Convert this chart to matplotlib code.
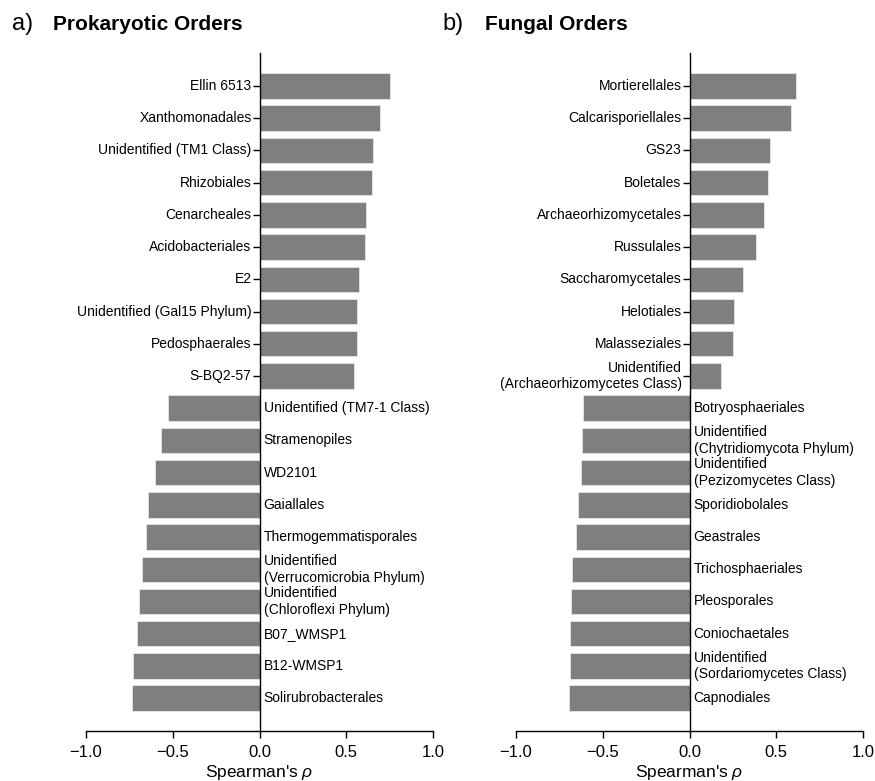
import matplotlib
matplotlib.use("Agg")
import matplotlib.pyplot as plt
import matplotlib.transforms as mtransforms

plt.rcParams['font.family'] = ['Liberation Sans', 'DejaVu Sans']
plt.rcParams['mathtext.fontset'] = 'custom'
plt.rcParams['mathtext.it'] = 'Liberation Sans:italic'
plt.rcParams['mathtext.rm'] = 'Liberation Sans'

# Spearman correlations of prokaryotic orders
prok_orders = [
    "Ellin 6513", "Xanthomonadales", "Unidentified (TM1 Class)", "Rhizobiales",
    "Cenarcheales", "Acidobacteriales", "E2", "Unidentified (Gal15 Phylum)",
    "Pedosphaerales", "S-BQ2-57", "Unidentified (TM7-1 Class)", "Stramenopiles",
    "WD2101", "Gaiallales", "Thermogemmatisporales",
    "Unidentified\n(Verrucomicrobia Phylum)", "Unidentified\n(Chloroflexi Phylum)",
    "B07_WMSP1", "B12-WMSP1", "Solirubrobacterales",
]
prok_rho = [0.753, 0.696, 0.653, 0.651, 0.611, 0.605, 0.572, 0.563, 0.561, 0.546,
            -0.530, -0.565, -0.601, -0.640, -0.657, -0.678, -0.692, -0.707, -0.728, -0.734]

# Spearman correlations of fungal orders
fungal_orders = [
    "Mortierellales", "Calcarisporiellales", "GS23", "Boletales",
    "Archaeorhizomycetales", "Russulales", "Saccharomycetales", "Helotiales",
    "Malasseziales", "Unidentified\n(Archaeorhizomycetes Class)", "Botryosphaeriales",
    "Unidentified\n(Chytridiomycota Phylum)", "Unidentified\n(Pezizomycetes Class)",
    "Sporidiobolales", "Geastrales", "Trichosphaeriales", "Pleosporales",
    "Coniochaetales", "Unidentified\n(Sordariomycetes Class)", "Capnodiales",
]
fungal_rho = [0.613, 0.586, 0.465, 0.454, 0.427, 0.386, 0.308, 0.256, 0.248, 0.183,
              -0.615, -0.622, -0.623, -0.640, -0.653, -0.678, -0.682, -0.689, -0.690, -0.697]

x_ticks = [-1.0, -0.5, 0.0, 0.5, 1.0]
bar_color = "#7f7f7f"

fig = plt.figure(figsize=(8.75, 7.81), dpi=100)


def draw_panel(ax, names, values):
    ypos = list(range(len(names)))
    ax.barh(ypos, values, height=0.79, color=bar_color, edgecolor="#e6e6e6",
            linewidth=0.6, zorder=2)
    ax.set_xlim(-1.0, 1.0)
    ax.set_ylim(len(names) - 1 + 1.02, -1.02)
    ax.spines['left'].set_position(('data', 0))
    ax.spines['left'].set_zorder(3)
    ax.spines['top'].set_visible(False)
    ax.spines['right'].set_visible(False)
    for s in ('left', 'bottom'):
        ax.spines[s].set_linewidth(1.0)
    ax.set_xticks(x_ticks)
    ax.tick_params(axis='x', labelsize=12, length=5, width=1, pad=5)
    ax.set_yticks(ypos)
    ax.set_yticklabels([])
    ax.tick_params(axis='y', length=5, width=1, direction='out')
    ax.set_xlabel(r"Spearman's $\rho$", fontsize=12.5, labelpad=2)

    left_off = mtransforms.offset_copy(ax.transData, fig=fig, x=-8, y=0, units='dots')
    right_off = mtransforms.offset_copy(ax.transData, fig=fig, x=4, y=0, units='dots')
    for y, name, v in zip(ypos, names, values):
        if v >= 0:
            ax.text(0, y, name, transform=left_off, ha='right', va='center',
                    fontsize=10, multialignment='right', linespacing=1.25)
        else:
            ax.text(0, y, name, transform=right_off, ha='left', va='center',
                    fontsize=10, multialignment='left', linespacing=1.25)


ax1 = fig.add_axes([0.0983, 0.064, 0.3966, 0.868])
draw_panel(ax1, prok_orders, prok_rho)
ax2 = fig.add_axes([0.5897, 0.064, 0.3966, 0.868])
draw_panel(ax2, fungal_orders, fungal_rho)

# Panel headings
fig.text(12 / 875, 1 - 30 / 781, "a)", fontsize=17, va='baseline', ha='left')
fig.text(53 / 875, 1 - 30 / 781, "Prokaryotic Orders", fontsize=15,
         fontweight='bold', va='baseline', ha='left')
fig.text(442 / 875, 1 - 30 / 781, "b)", fontsize=17, va='baseline', ha='left')
fig.text(485 / 875, 1 - 30 / 781, "Fungal Orders", fontsize=15,
         fontweight='bold', va='baseline', ha='left')

fig.savefig("out.png", dpi=100)
